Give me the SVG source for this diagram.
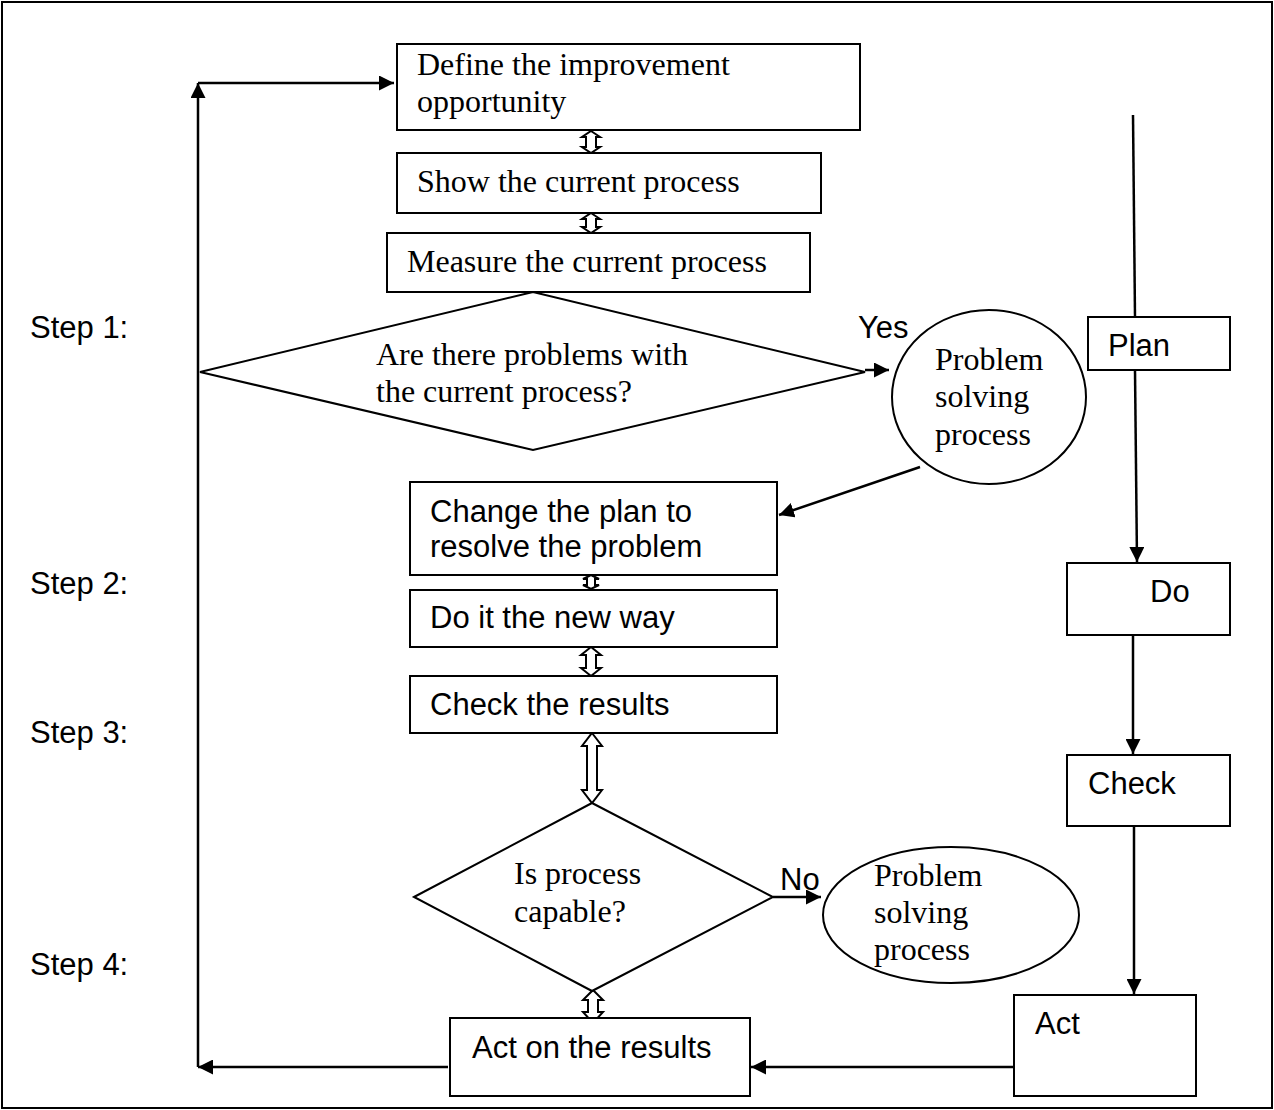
<svg xmlns="http://www.w3.org/2000/svg" width="1274" height="1110" viewBox="0 0 1274 1110">
<defs>
<marker id="ah" viewBox="0 0 10 10" refX="10" refY="5" markerWidth="15" markerHeight="15" markerUnits="userSpaceOnUse" orient="auto-start-reverse">
<path d="M0,0 L10,5 L0,10 Z" fill="#000"/>
</marker>
</defs>
<style>
.box{fill:#fff;stroke:#000;stroke-width:2}
.dbl{fill:#fff;stroke:#000;stroke-width:2;stroke-linejoin:miter}
.ln{fill:none;stroke:#000;stroke-width:2.5}
.tr{font-family:"Liberation Serif","Times New Roman",serif;font-size:32px;fill:#000}
.ar{font-family:"Liberation Sans",Arial,sans-serif;font-size:31px;fill:#000}
</style>
<rect x="2" y="2" width="1270" height="1106" fill="#fff" stroke="#000" stroke-width="2"/>

<g id="connectors">
<line class="ln" x1="198" y1="1067" x2="198" y2="83" marker-end="url(#ah)"/>
<line class="ln" x1="198" y1="83" x2="394" y2="83" marker-end="url(#ah)"/>
<line class="ln" x1="448" y1="1067" x2="198" y2="1067" marker-end="url(#ah)"/>
<line class="ln" x1="1013" y1="1067" x2="751" y2="1067" marker-end="url(#ah)"/>
<line class="ln" x1="865" y1="370" x2="889" y2="370" marker-end="url(#ah)"/>
<line class="ln" x1="920" y1="467" x2="779" y2="515" marker-end="url(#ah)"/>
<line class="ln" x1="773" y1="897" x2="821" y2="897" marker-end="url(#ah)"/>
<line class="ln" x1="1133" y1="115" x2="1135" y2="317"/>
<line class="ln" x1="1135" y1="370" x2="1137" y2="562" marker-end="url(#ah)"/>
<line class="ln" x1="1133" y1="635" x2="1133" y2="754" marker-end="url(#ah)"/>
<line class="ln" x1="1134" y1="812" x2="1134" y2="994" marker-start="url(#ah)" marker-end="url(#ah)"/>
<path class="dbl" d="M591,131 L600,137 L596,137 L596,147 L600,147 L591,153 L582,147 L586,147 L586,137 L582,137 Z"/>
<path class="dbl" d="M591,213 L600,219 L596,219 L596,227 L600,227 L591,233 L582,227 L586,227 L586,219 L582,219 Z"/>
<path class="dbl" d="M591,575 L599,579 L595,579 L595,585 L599,585 L591,589 L583,585 L587,585 L587,579 L583,579 Z"/>
<path class="dbl" d="M591,647 L601,655 L596,655 L596,668 L601,668 L591,676 L581,668 L586,668 L586,655 L581,655 Z"/>
<path class="dbl" d="M592,733 L602,746 L597,746 L597,790 L602,790 L592,803 L582,790 L587,790 L587,746 L582,746 Z"/>
<path class="dbl" d="M593,990 L603,1000 L598,1000 L598,1012 L603,1012 L593,1023 L583,1012 L588,1012 L588,1000 L583,1000 Z"/>
</g>

<g id="define">
<rect class="box" x="397" y="44" width="463" height="86"/>
<text class="tr" x="417" y="75">Define the improvement</text>
<text class="tr" x="417" y="112">opportunity</text>
</g>
<g id="show">
<rect class="box" x="397" y="153" width="424" height="60"/>
<text class="tr" x="417" y="192">Show the current process</text>
</g>
<g id="measure">
<rect class="box" x="387" y="233" width="423" height="59"/>
<text class="tr" x="407" y="272">Measure the current process</text>
</g>
<g id="decision1">
<polygon class="box" points="200,372 533,292 865,372 533,450"/>
<text class="tr" x="376" y="365">Are there problems with</text>
<text class="tr" x="376" y="402">the current process?</text>
</g>
<g id="problem1">
<ellipse class="box" cx="989" cy="397" rx="97" ry="87"/>
<text class="tr" x="935" y="370">Problem</text>
<text class="tr" x="935" y="407">solving</text>
<text class="tr" x="935" y="445">process</text>
</g>
<text class="ar" x="858" y="338">Yes</text>
<g id="change">
<rect class="box" x="410" y="482" width="367" height="93"/>
<text class="ar" x="430" y="522">Change the plan to</text>
<text class="ar" x="430" y="557">resolve the problem</text>
</g>
<g id="doit">
<rect class="box" x="410" y="590" width="367" height="57"/>
<text class="ar" x="430" y="628">Do it the new way</text>
</g>
<g id="checkres">
<rect class="box" x="410" y="676" width="367" height="57"/>
<text class="ar" x="430" y="715">Check the results</text>
</g>
<g id="decision2">
<polygon class="box" points="414,897 592,803 773,897 592,991"/>
<text class="tr" x="514" y="884">Is process</text>
<text class="tr" x="514" y="922">capable?</text>
</g>
<text class="ar" x="780" y="890">No</text>
<g id="problem2">
<ellipse class="box" cx="951" cy="915" rx="128" ry="68"/>
<text class="tr" x="874" y="886">Problem</text>
<text class="tr" x="874" y="923">solving</text>
<text class="tr" x="874" y="960">process</text>
</g>
<g id="actres">
<rect class="box" x="450" y="1018" width="300" height="78"/>
<text class="ar" x="472" y="1058">Act on the results</text>
</g>
<g id="plan">
<rect class="box" x="1088" y="317" width="142" height="53"/>
<text class="ar" x="1108" y="356">Plan</text>
</g>
<g id="do">
<rect class="box" x="1067" y="563" width="163" height="72"/>
<text class="ar" x="1150" y="602">Do</text>
</g>
<g id="check">
<rect class="box" x="1067" y="755" width="163" height="71"/>
<text class="ar" x="1088" y="794">Check</text>
</g>
<g id="act">
<rect class="box" x="1014" y="995" width="182" height="101"/>
<text class="ar" x="1035" y="1034">Act</text>
</g>
<g id="steps">
<text class="ar" x="30" y="338">Step 1:</text>
<text class="ar" x="30" y="594">Step 2:</text>
<text class="ar" x="30" y="743">Step 3:</text>
<text class="ar" x="30" y="975">Step 4:</text>
</g>
</svg>
